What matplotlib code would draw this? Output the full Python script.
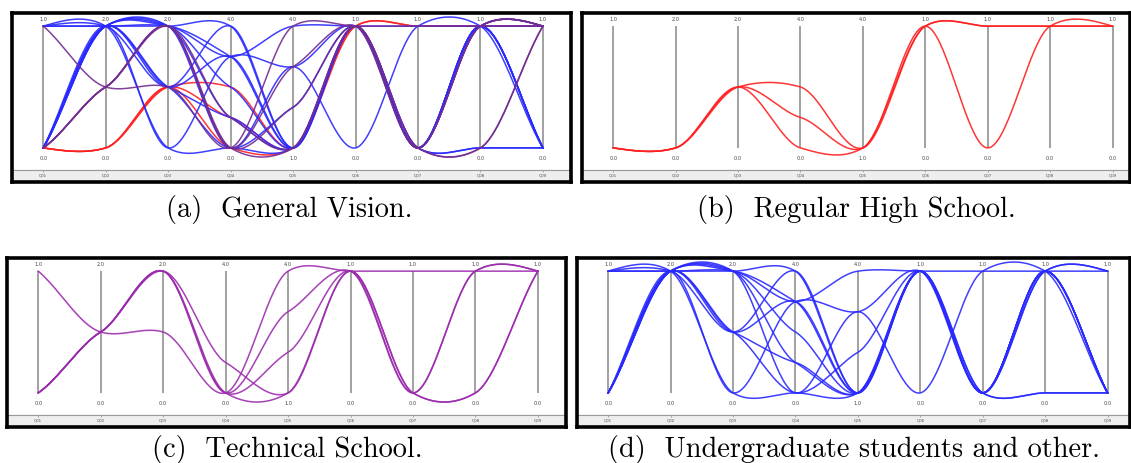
import numpy as np
import matplotlib
matplotlib.use("Agg")
import matplotlib.pyplot as plt

# Questions and their value ranges
QUESTIONS = ["Q01", "Q02", "Q03", "Q04", "Q05", "Q06", "Q07", "Q08", "Q09"]
Q_MIN = [0, 0, 0, 0, 1, 0, 0, 0, 0]
Q_MAX = [1, 2, 2, 4, 4, 1, 1, 1, 1]

# Answers per group (one row per respondent profile)
regular_high_school = [
    [0, 0, 1, 2, 1, 1, 1, 1, 1],
    [0, 0, 1, 1, 1, 1, 0, 1, 1],
    [0, 0, 1, 0, 1, 1, 1, 1, 1],
]
technical_school = [
    [1, 1, 1, 0, 4, 1, 1, 1, 1],
    [0, 1, 2, 1, 1, 1, 0, 0, 1],
    [0, 1, 2, 0, 3, 1, 0, 1, 1],
    [0, 1, 2, 0, 2, 1, 0, 1, 1],
    [0, 1, 2, 0, 1, 1, 0, 0, 1],
]
undergraduate = [
    [1, 2, 2, 4, 1, 1, 0, 1, 0],
    [1, 2, 2, 3, 4, 1, 1, 1, 1],
    [0, 2, 2, 2, 1, 1, 0, 1, 0],
    [0, 2, 2, 1, 1, 1, 0, 1, 1],
    [0, 2, 2, 0, 3, 0, 1, 1, 0],
    [1, 2, 1, 4, 1, 1, 0, 0, 0],
    [0, 2, 1, 3, 1, 1, 0, 1, 0],
    [0, 2, 1, 0, 2, 1, 0, 1, 0],
    [0, 2, 0, 3, 3, 1, 0, 1, 0],
    [1, 2, 0, 0, 1, 1, 0, 0, 0],
    [0, 2, 2, 3, 1, 1, 0, 1, 0],
    [0, 2, 1, 1, 1, 1, 0, 1, 1],
]

RED = "#ff2020"
PURPLE = "#9c2cae"
PURPLE_DARK = "#742c92"
BLUE = "#2a2aff"

W, H = 1131, 463


def smooth(vals, n=40, k=0.6):
    # cubic Hermite curve through the axis points, softened Catmull-Rom tangents
    y = np.asarray(vals, float)
    m = np.zeros_like(y)
    m[1:-1] = k * (y[2:] - y[:-2]) / 2
    m[0] = 1.0 * (y[1] - y[0]) - m[1] / 2
    m[-1] = 1.0 * (y[-1] - y[-2]) - m[-2] / 2
    xs, ys = [], []
    t = np.linspace(0, 1, n)
    h00 = 2 * t**3 - 3 * t**2 + 1
    h10 = t**3 - 2 * t**2 + t
    h01 = -2 * t**3 + 3 * t**2
    h11 = t**3 - t**2
    for i in range(len(y) - 1):
        xs.append(i + t)
        ys.append(h00 * y[i] + h10 * m[i] + h01 * y[i + 1] + h11 * m[i + 1])
    return np.concatenate(xs), np.concatenate(ys)


def normalise(row):
    return [(v - lo) / (hi - lo) for v, lo, hi in zip(row, Q_MIN, Q_MAX)]


def panel(fig, box, xmax, groups, caption, cap_x, cap_y):
    left, top, right, bottom = box
    ax = fig.add_axes([left / W, 1 - bottom / H, (right - left) / W, (bottom - top) / H])
    ax.set_xlim(-0.5, xmax)
    ax.set_ylim(-0.28, 1.108)
    ax.set_xticks([])
    ax.set_yticks([])
    for s in ax.spines.values():
        s.set_linewidth(2.6)
        s.set_color("black")

    # footer band
    ax.axhspan(-0.28, -0.18, color="#eeeeee", zorder=0)
    ax.axhline(-0.18, color="#999999", lw=0.8, zorder=1)

    for j, q in enumerate(QUESTIONS):
        ax.vlines(j, 0, 1, color="#9a9a9a", lw=1.3, zorder=1)
        ax.text(j, 1.058, f"{Q_MAX[j]:.1f}", fontsize=3.6, ha="center", va="center", color="#444444")
        ax.text(j, -0.083, f"{Q_MIN[j]:.1f}", fontsize=3.6, ha="center", va="center", color="#444444")
        ax.vlines(j, -0.18, -0.2, color="#999999", lw=0.6, zorder=1)
        ax.text(j, -0.228, q, fontsize=2.8, ha="center", va="center", color="#444444")

    for rows, color in groups:
        for row in rows:
            xs, ys = smooth(normalise(row))
            ax.plot(xs, ys, color=color, lw=1.1, alpha=0.9, zorder=3)

    fig.text(cap_x / W, 1 - cap_y / H, caption, fontsize=20.4, family="cmr10",
             ha="center", va="center")


fig = plt.figure(figsize=(W / 100, H / 100), dpi=100)

panel(fig, (12, 13, 571, 182), 8.45,
      [(regular_high_school, RED), (undergraduate, BLUE), (technical_school, PURPLE_DARK)],
      "(a)  General Vision.", 289, 209)
panel(fig, (582, 13, 1130, 182), 8.28,
      [(regular_high_school, RED)],
      "(b)  Regular High School.", 856, 209)
panel(fig, (7, 258, 566, 427), 8.45,
      [(technical_school, PURPLE)],
      "(c)  Technical School.", 287, 449)
panel(fig, (577, 258, 1130, 427), 8.36,
      [(undergraduate, BLUE)],
      "(d)  Undergraduate students and other.", 854, 449)

fig.savefig("out.png", dpi=100)
